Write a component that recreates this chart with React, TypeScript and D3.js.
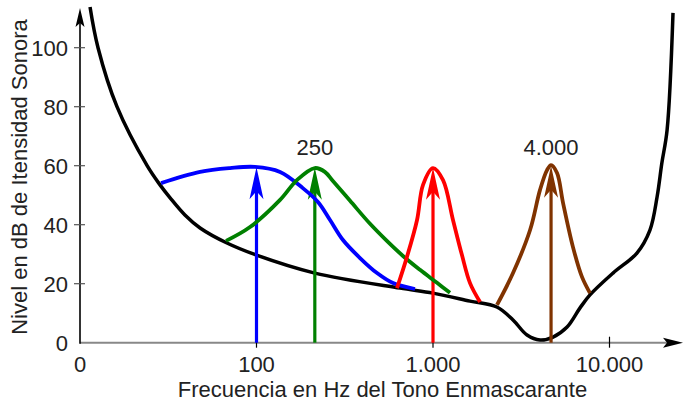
import React from "react";
import * as d3 from "d3";

const width = 684;
const height = 404;

// threshold of hearing (Hz, dB)
const thresholdFreq = [11.4, 12.65, 16.2, 24, 28.4, 32.4, 39.3, 47.9, 68, 100, 214, 650, 1000, 1620, 2300, 2840, 3410, 4040, 4790, 5750, 6810, 7750, 10470, 14300, 16950, 18600, 19800, 21200, 22900];
const thresholdDb = [113.8, 100, 80, 60, 53.5, 49.1, 43.3, 38.9, 33.8, 29.7, 23.6, 18.5, 16.8, 14.1, 12.1, 7.7, 2.6, 0.9, 1.9, 5.3, 11.8, 16.2, 23.6, 30.4, 38.2, 49.4, 60.9, 72.1, 111.8];

// masking curves
const blueFreq = [28.8, 47.9, 70.8, 98, 136, 183, 223, 261, 309, 386, 482, 594, 791];
const blueDb = [54.1, 57.9, 59.2, 59.6, 57.9, 52.4, 47.7, 41.6, 34.8, 28.7, 23.6, 20.2, 18.2];
const greenFreq = [67.2, 91.9, 136, 170, 214, 244, 271, 339, 440, 548, 676, 844, 1054, 1248];
const greenDb = [34.5, 39.2, 48.4, 55.2, 59.2, 57.9, 54.8, 48.1, 40.3, 34.5, 29.4, 24.7, 20.3, 16.9];
const redFreq = [625, 712, 812, 878, 1000, 1140, 1298, 1459, 1621, 1847];
const redDb = [18.5, 29.1, 41.6, 53.5, 59.2, 55.1, 41.6, 29.7, 20.2, 13.8];
const brownFreq = [2305, 2840, 3548, 4040, 4426, 4665, 5045, 5454, 6210, 6983, 7755];
const brownDb = [12.8, 23.6, 38.2, 51.8, 58.5, 60.2, 57.5, 47.4, 32.4, 22.3, 16.8];

// masking tones
const toneFreq = [100, 214, 1000, 4665];
const toneDb = [59.5, 59.3, 59.3, 60];
const toneColor = ["#0000ff", "#008000", "#ff0000", "#803300"];
const toneLabels = ["", "250", "", "4.000"];

const yTicks = [0, 20, 40, 60, 80, 100];
const xTicks = [100, 1000, 10000];
const xTickLabels = ["100", "1.000", "10.000"];

const x = d3.scaleLog().domain([10, 10000]).range([80, 609.5]);
const y = d3.scaleLinear().domain([0, 100]).range([342.7, 47.7]);

const line = d3
  .line<[number, number]>()
  .x((d) => x(d[0]))
  .y((d) => y(d[1]))
  .curve(d3.curveCatmullRom.alpha(0.5));

const zip = (a: number[], b: number[]) => a.map((v, i) => [v, b[i]] as [number, number]);

const maskers = [
  { f: blueFreq, db: blueDb, color: toneColor[0] },
  { f: greenFreq, db: greenDb, color: toneColor[1] },
  { f: redFreq, db: redDb, color: toneColor[2] },
  { f: brownFreq, db: brownDb, color: toneColor[3] },
];

const font = "'Liberation Sans', Arial, sans-serif";
const textColor = "#222";

export default function App() {
  const x0 = x(10);
  const y0 = y(0);
  return (
    <svg width={width} height={height} style={{ position: "absolute", left: 0, top: 0 }} fontFamily={font}>
      {/* axes */}
      <line x1={x0} x2={674} y1={y0} y2={y0} stroke="#888" strokeWidth={2} />
      <path d={`M683,${y0} L663,${y0 - 5} L667,${y0} L663,${y0 + 5} Z`} fill="#000" />
      <line x1={x0} x2={x0} y1={y0 + 1} y2={16} stroke="#000" strokeWidth={1.6} />
      <path d={`M${x0},8 L${x0 - 4.5},27 L${x0},23 L${x0 + 4.5},27 Z`} fill="#000" />

      {yTicks.map((t) => (
        <g key={t}>
          {t > 0 && <line x1={x0 - 6} x2={x0 + 5} y1={y(t)} y2={y(t)} stroke="#555" strokeWidth={1.2} />}
          <text x={68} y={y(t) + 8} textAnchor="end" fontSize={22} fill={textColor}>
            {t}
          </text>
        </g>
      ))}
      <text x={x0} y={372} textAnchor="middle" fontSize={22} fill={textColor}>
        0
      </text>
      {xTicks.map((t, i) => (
        <g key={t}>
          <line x1={x(t)} x2={x(t)} y1={y0 - 6} y2={y0 + 5} stroke="#000" strokeWidth={1.2} />
          <text x={x(t)} y={372} textAnchor="middle" fontSize={22} fill={textColor}>
            {xTickLabels[i]}
          </text>
        </g>
      ))}

      <text x={382.5} y={397} textAnchor="middle" fontSize={22} fill={textColor}>
        Frecuencia en Hz del Tono Enmascarante
      </text>
      <text transform="translate(27,177) rotate(-90)" textAnchor="middle" fontSize={22} fill={textColor}>
        Nivel en dB de Itensidad Sonora
      </text>

      {/* threshold of hearing */}
      <path d={line(zip(thresholdFreq, thresholdDb)) || ""} fill="none" stroke="#000" strokeWidth={3.5} />

      {/* tones */}
      {toneFreq.map((f, i) => {
        const tx = x(f);
        const ty = y(toneDb[i]);
        return (
          <g key={f}>
            <line x1={tx} x2={tx} y1={y0} y2={ty + 20} stroke={toneColor[i]} strokeWidth={3.2} />
            <path
              d={`M${tx},${ty} L${tx - 7},${ty + 32} L${tx},${ty + 24} L${tx + 7},${ty + 32} Z`}
              fill={toneColor[i]}
            />
            {toneLabels[i] && (
              <text x={tx} y={155} textAnchor="middle" fontSize={22} fill={textColor}>
                {toneLabels[i]}
              </text>
            )}
          </g>
        );
      })}

      {/* masking curves */}
      {maskers.map((m, i) => (
        <path key={i} d={line(zip(m.f, m.db)) || ""} fill="none" stroke={m.color} strokeWidth={3.8} />
      ))}
    </svg>
  );
}
